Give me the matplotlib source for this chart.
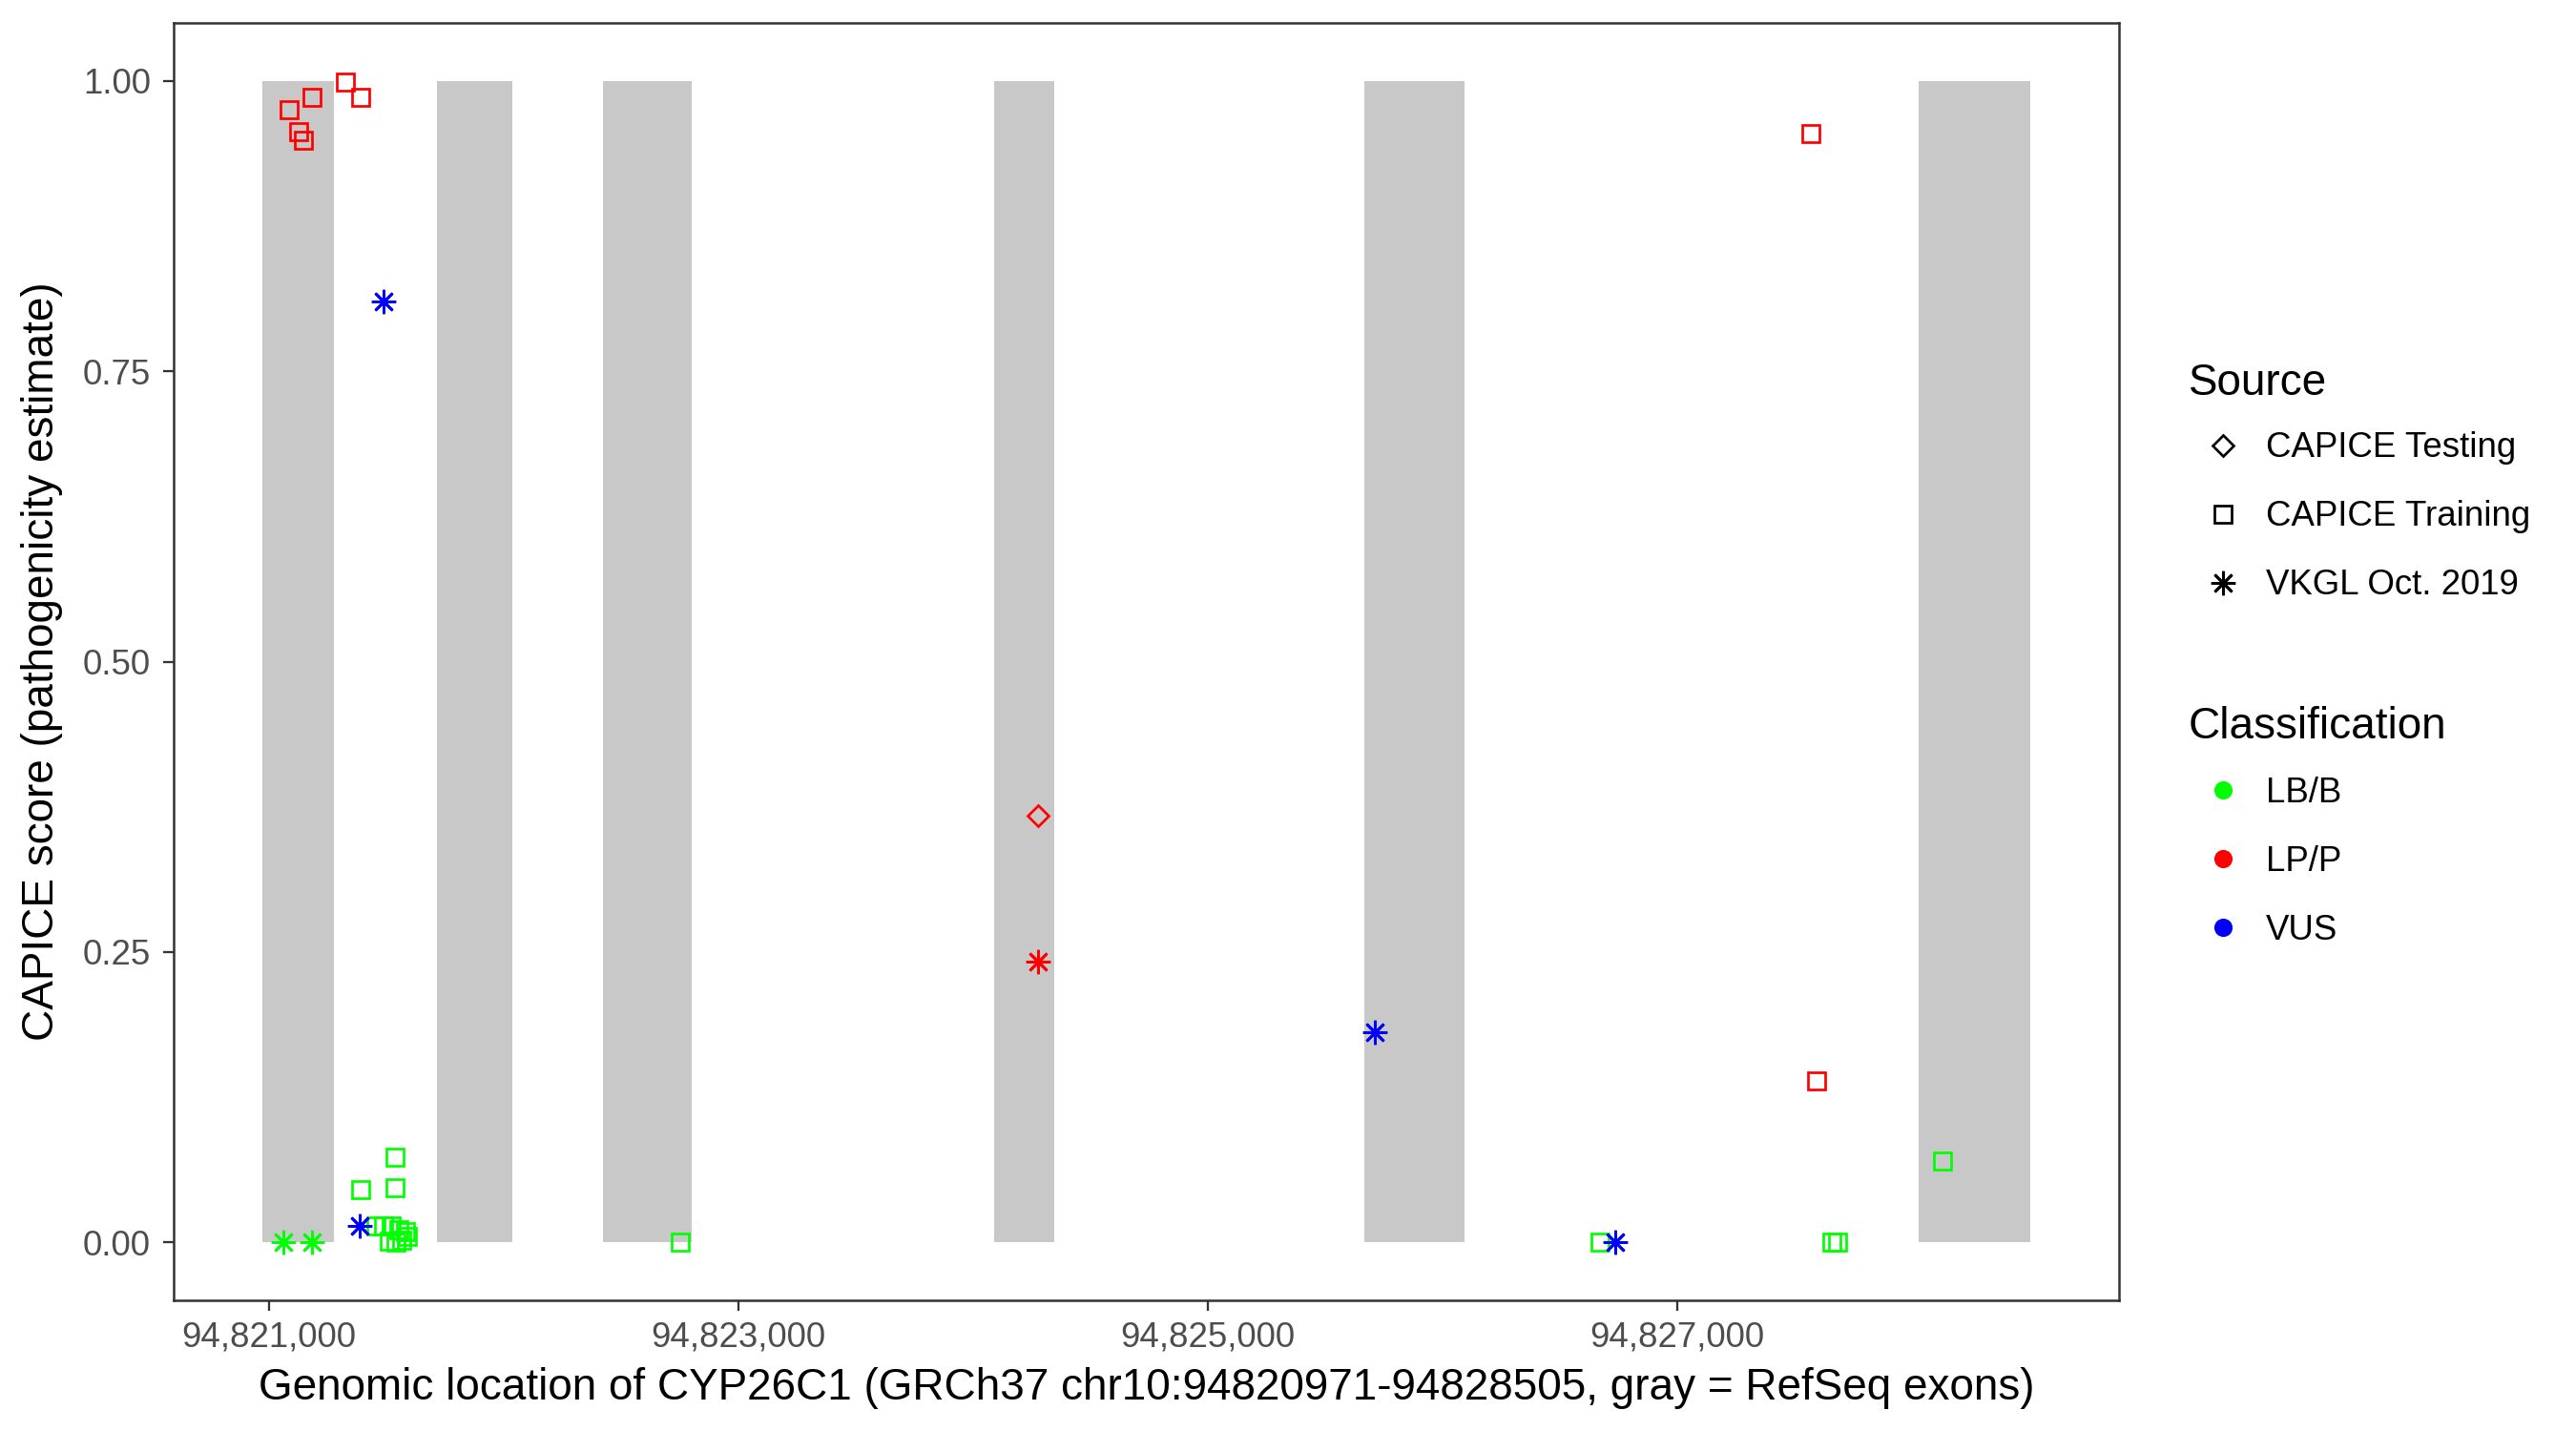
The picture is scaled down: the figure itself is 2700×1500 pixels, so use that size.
import matplotlib
matplotlib.use("Agg")
import matplotlib.pyplot as plt
from matplotlib.lines import Line2D
from matplotlib.ticker import FuncFormatter

plt.rcParams['font.family'] = ['Liberation Sans', 'DejaVu Sans']

# RefSeq exons of CYP26C1
exon_start = [94820971, 94821715, 94822425, 94824090, 94825665, 94828028]
exon_end = [94821276, 94822039, 94822803, 94824346, 94826095, 94828505]
gene_start, gene_end = 94820971, 94828505

# variants: position, CAPICE score, source, classification
pos = [94821086, 94821125, 94821149, 94821183, 94821324, 94821393,
       94827569, 94827594,
       94821391, 94821536, 94821536, 94821455, 94821487, 94821520,
       94821552, 94821581, 94821512, 94821540, 94821564, 94821589,
       94822754, 94826671, 94827659, 94827684, 94828128,
       94824275,
       94821061, 94821185, 94821487, 94821387, 94825713, 94826736,
       94824275]
score = [0.975, 0.956, 0.949, 0.986, 0.999, 0.986,
         0.955, 0.139,
         0.045, 0.073, 0.047, 0.014, 0.014, 0.014,
         0.011, 0.009, 0.001, 0.000, 0.002, 0.005,
         0.000, 0.000, 0.000, 0.000, 0.070,
         0.367,
         0.000, 0.000, 0.810, 0.014, 0.181, 0.000,
         0.242]
source = (['CAPICE Training'] * 25 + ['CAPICE Testing'] +
          ['VKGL Oct. 2019'] * 7)
classification = (['LP/P'] * 8 + ['LB/B'] * 17 + ['LP/P'] +
                  ['LB/B', 'LB/B', 'VUS', 'VUS', 'VUS', 'VUS', 'LP/P'])

source_names = ['CAPICE Testing', 'CAPICE Training', 'VKGL Oct. 2019']
class_names = ['LB/B', 'LP/P', 'VUS']
class_colors = {'LB/B': '#00FF00', 'LP/P': '#FF0000', 'VUS': '#0000FF'}
source_markers = {'CAPICE Testing': 'D', 'CAPICE Training': 's',
                  'VKGL Oct. 2019': (8, 2, 0)}
marker_sizes = {'CAPICE Testing': 3.9, 'CAPICE Training': 4.1,
                'VKGL Oct. 2019': 6.1}

fig = plt.figure(figsize=(9, 5), dpi=300)
ax = fig.add_axes([0.0674, 0.0913, 0.7552, 0.8927])

for s, e in zip(exon_start, exon_end):
    ax.fill_between([s, e], 0, 1, color='#C8C8C8', linewidth=0, zorder=1)

for x, y, src, cl in zip(pos, score, source, classification):
    ax.plot(x, y, linestyle='none', marker=source_markers[src],
            markersize=marker_sizes[src], markerfacecolor='none',
            markeredgecolor=class_colors[cl], markeredgewidth=0.65, zorder=3)

span = gene_end - gene_start
ax.set_xlim(gene_start - 0.05 * span, gene_end + 0.05 * span)
ax.set_ylim(-0.05, 1.05)
ax.set_xticks([94821000, 94823000, 94825000, 94827000])
ax.xaxis.set_major_formatter(FuncFormatter(lambda v, p: f'{int(v):,}'))
ax.set_yticks([0, 0.25, 0.5, 0.75, 1.0])
ax.yaxis.set_major_formatter(FuncFormatter(lambda v, p: f'{v:.2f}'))

ax.tick_params(axis='both', length=2.75, width=0.55, color='#333333',
               labelsize=8.8, labelcolor='#4D4D4D')
ax.tick_params(axis='x', pad=2.5)
ax.tick_params(axis='y', pad=3.0)
for sp in ax.spines.values():
    sp.set_linewidth(0.6)
    sp.set_color('#333333')

ax.set_xlabel('Genomic location of CYP26C1 (GRCh37 chr10:94820971-94828505, gray = RefSeq exons)',
              fontsize=11, labelpad=3.2)
ax.set_ylabel('CAPICE score (pathogenicity estimate)', fontsize=11, labelpad=5)

src_handles = [Line2D([], [], linestyle='none', marker=source_markers[s],
                      markersize=marker_sizes[s], markerfacecolor='none',
                      markeredgecolor='black', markeredgewidth=0.65)
               for s in source_names]
cls_handles = [Line2D([], [], linestyle='none', marker='o', markersize=4.6,
                      markerfacecolor=class_colors[c], markeredgecolor='none')
               for c in class_names]

# legend titles as plain text, entries as legends without title
fig.text(0.8496, 0.7237, 'Source', fontsize=11, va='baseline', ha='left')
fig.text(0.8496, 0.4837, 'Classification', fontsize=11, va='baseline', ha='left')

leg_kw = dict(loc='upper left', frameon=False, fontsize=8.8,
              borderpad=0, borderaxespad=0, handlelength=1.96,
              handletextpad=0.25, labelspacing=1.01,
              bbox_transform=fig.transFigure)
leg1 = ax.legend(src_handles, source_names,
                 bbox_to_anchor=(0.8496, 0.6984), **leg_kw)
ax.add_artist(leg1)
ax.legend(cls_handles, class_names,
          bbox_to_anchor=(0.8496, 0.4574), **leg_kw)

fig.savefig('out.png', dpi=300)
